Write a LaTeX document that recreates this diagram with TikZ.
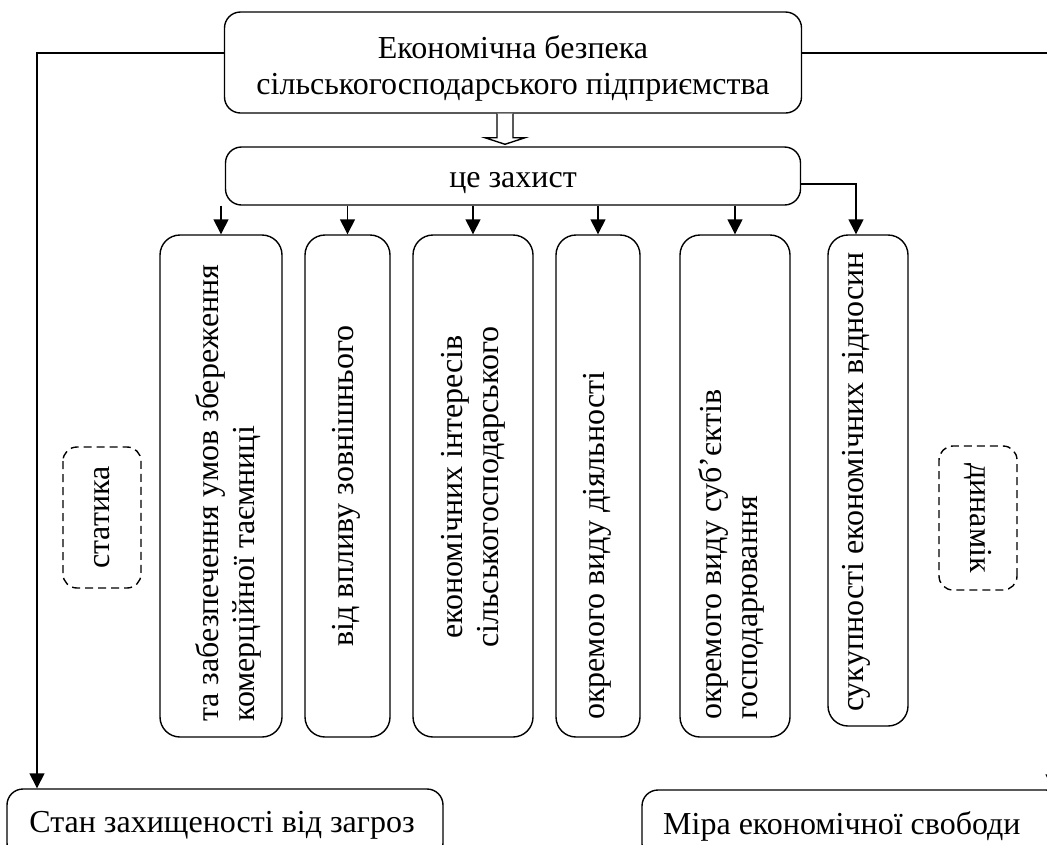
\documentclass[tikz,border=0pt]{standalone}
\usepackage{fontspec}
\setmainfont{Liberation Serif}
\usetikzlibrary{arrows.meta,calc}
\tikzset{
  box/.style={draw, line width=1.4pt, rounded corners=16pt, inner sep=0pt},
  lbl/.style={inner sep=0pt, align=center},
  vbox/.style={draw, line width=1.4pt, rounded corners=20pt, inner sep=0pt},
  vtext/.style={rotate=90, anchor=west, inner sep=0pt, align=left},
  dbox/.style={draw, line width=1.4pt, dash pattern=on 8pt off 5pt, rounded corners=14pt, inner sep=0pt},
  arr/.style={line width=1.4pt, -{Triangle[length=15pt,width=15pt]}},
}
\begin{document}
\begin{tikzpicture}[x=1pt,y=-1pt, font=\fontsize{32}{36}\selectfont]
\useasboundingbox (0,0) rectangle (1047,844);
\clip (0,0) rectangle (1047,844);

% top boxes
\node[box, minimum width=577pt, minimum height=101pt] (top) at (513,62.5) {};
\node[lbl] (toptext) at (513,68) {Економічна безпека\\сільськогосподарського підприємства};
\node[box, minimum width=575pt, minimum height=58pt] (zah) at (513,176) {};
\node[lbl] (zahtext) at (513,183) {це захист};

% hollow arrow
\draw[line width=1.4pt, fill=white]
  ($(top.south)+(-16,0)$) -- ($(top.south)+(-16,24)$) -- ($(top.south)+(-28,24)$)
  -- ($(zah.north)+(-8,-2)$) -- ($(top.south)+(12,24)$) -- ($(top.south)+(0,24)$)
  -- (top.south);

% vertical boxes
\node[vbox, minimum width=122pt, minimum height=502pt] (b1) at (221,486) {};
\node[vbox, minimum width=85pt,  minimum height=502pt] (b2) at (347.5,486) {};
\node[vbox, minimum width=120pt, minimum height=502pt] (b3) at (473,486) {};
\node[vbox, minimum width=84pt,  minimum height=502pt] (b4) at (598,486) {};
\node[vbox, minimum width=110pt, minimum height=502pt] (b5) at (735,486) {};
\node[vbox, minimum width=80pt,  minimum height=491pt] (b6) at (868,480.5) {};

\node[vtext] (t1) at (228,722) {та забезпечення умов збереження\\комерційної таємниці};
\node[vtext, anchor=center] (t2) at (346,486) {від впливу зовнішнього};
\node[vtext, anchor=center, align=center] (t3) at (473,487) {економічних інтересів\\сільськогосподарського};
\node[vtext] (t4) at (597,720) {окремого виду діяльності};
\node[vtext] (t5) at (731,720) {окремого виду суб’єктів\\господарювання};
\node[vtext] (t6) at (856,712) {сукупності економічних відносин};

% arrows from "це захист"
\foreach \b in {b1,b2,b3,b4,b5}
  \draw[arr] (zah.south -| \b.north) -- (\b.north);
\draw[arr] ([yshift=-8pt]zah.east) -| ([xshift=-12pt]b6.north);

% dashed labels
\node[dbox, rotate=90, minimum width=141pt, minimum height=78pt] (st) at (102,517.5) {статика};
\node[dbox, rotate=-90, minimum width=144pt, minimum height=78pt] (dyn) at (978,518) {динамік};

% bottom boxes
\node[box, minimum width=436pt, minimum height=70pt] (lb) at (225,824) {};
\node[lbl] (lbtext) at (222,825) {Стан захищеності від загроз};
\node[box, minimum width=420pt, minimum height=70pt] (rb) at (852,825) {};
\node[lbl, anchor=west] (rbtext) at (663,826) {Міра економічної свободи};

% side connectors
\draw[arr] ([yshift=9.5pt]top.west) -| ([xshift=-188pt]lb.north);
\draw[arr] ([yshift=9.5pt]top.east) -| ([xshift=201pt]rb.north);
\end{tikzpicture}
\end{document}
